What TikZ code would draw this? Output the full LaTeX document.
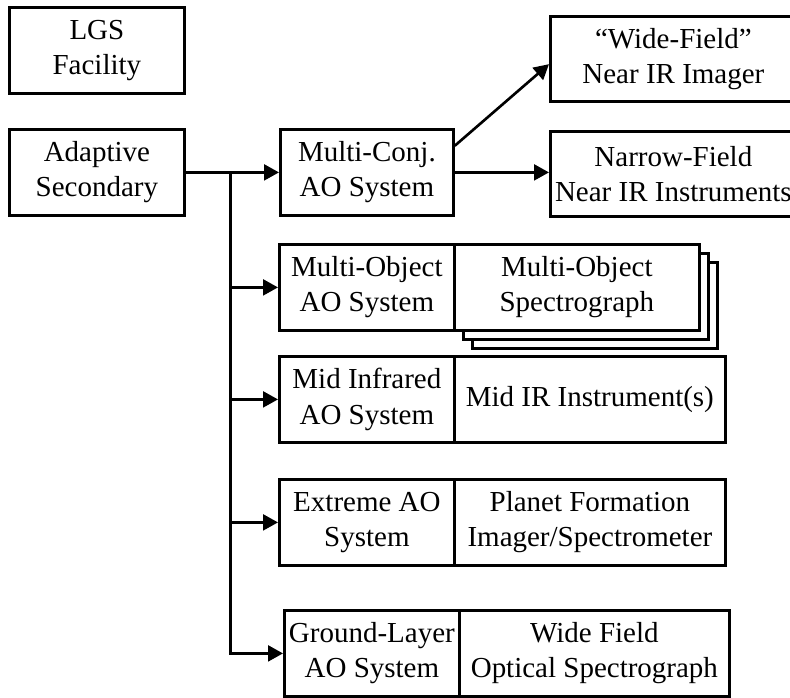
\documentclass[tikz,border=0pt]{standalone}
\usepackage{fontspec}
\setmainfont{Liberation Serif}
\usepackage{tikz}
\usetikzlibrary{arrows.meta, calc}
\tikzset{
    blok/.style={
        draw, line width=1.6pt, fill=white, align=center,
        minimum height=1.72cm, inner sep=1pt, anchor=north west,
        font=\fontsize{16.5}{20}\selectfont
    },
    conar/.style={
        line width=1.5pt,
        -{Triangle[length=8.5pt,width=9pt]}
    },
}

\begin{document}
\begin{tikzpicture}[x=0.02cm, y=-0.02cm]
    \useasboundingbox (0,0) rectangle (790,697);
    \clip (0,0) rectangle (790,697);

    \node[blok, minimum width=3.5cm] (lgs) at (8,6) {LGS\\Facility};
    \node[blok, minimum width=3.5cm] (adapt) at (8,128) {Adaptive\\Secondary};
    \node[blok, minimum width=3.46cm] (mcao) at (279,128) {Multi-Conj.\\AO System};
    \node[blok, minimum width=4.92cm, minimum height=1.7cm] (wfi) at (549,15) {``Wide-Field''\\Near IR Imager};
    \node[blok, minimum width=4.92cm, minimum height=1.7cm] (nfi) at (549,130) {Narrow-Field\\Near IR Instruments};

    \foreach \d in {18,9}
        \node[blok, minimum width=4.9cm] (mos\d) at (453+\d,243+\d) {};
    \node[blok, minimum width=3.5cm] (moao) at (278,243) {Multi-Object\\AO System};
    \node[blok, minimum width=4.9cm] (mos) at (453,243) {Multi-Object\\Spectrograph};

    \node[blok, minimum width=3.5cm] (miao) at (278,355) {Mid Infrared\\AO System};
    \node[blok, minimum width=5.42cm] (midir) at (453,355) {Mid IR Instrument(s)};

    \node[blok, minimum width=3.5cm] (exao) at (278,478) {Extreme AO\\System};
    \node[blok, minimum width=5.42cm] (pfi) at (453,478) {Planet Formation\\Imager/Spectrometer};

    \node[blok, minimum width=3.5cm] (glao) at (283,609) {Ground-Layer\\AO System};
    \node[blok, minimum width=5.4cm] (wfos) at (458,609) {Wide Field\\Optical Spectrograph};

    \coordinate (split) at ($(adapt.east)+(45,0)$);
    \draw[conar] (adapt.east) -- (mcao.west);
    \draw[conar] (split) |- (glao.west);
    \foreach \n in {moao, miao, exao}
        \draw[conar] (split |- \n.west) -- (\n.west);
    \draw[conar] (mcao.east) -- (nfi.west |- mcao.east);
    \draw[conar] ($(mcao.north east)!0.2!(mcao.south east)$) -- ($(wfi.north west)!0.56!(wfi.south west)$);
\end{tikzpicture}
\end{document}
